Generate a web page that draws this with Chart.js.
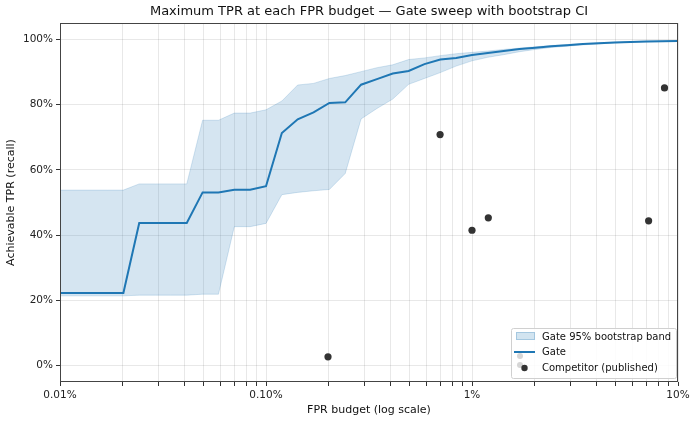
<!DOCTYPE html>
<html>
<head>
<meta charset="utf-8">
<script src="https://cdn.jsdelivr.net/npm/chart.js@4.4.1/dist/chart.umd.min.js"></script>
<style>
  html, body { margin: 0; padding: 0; background: #fff; }
  #wrap { width: 696px; height: 422px; }
</style>
</head>
<body>
<div id="wrap"><canvas id="c" width="696" height="422"></canvas></div>
<script>
// ---- data (FPR in percent, TPR in percent) ----
const fpr = [0.01, 0.011938, 0.014251, 0.017013, 0.02031, 0.024245, 0.028943, 0.034551, 0.041246, 0.049239,
  0.05878, 0.07017, 0.083768, 0.1, 0.11938, 0.14251, 0.17013, 0.2031, 0.24245, 0.28943,
  0.34551, 0.41246, 0.49239, 0.5878, 0.7017, 0.83768, 1.0, 1.1938, 1.4251, 1.7013,
  2.031, 2.4245, 2.8943, 3.4551, 4.1246, 4.9239, 5.878, 7.017, 8.3768, 10];
const gateTpr = [22.3, 22.3, 22.3, 22.3, 22.3, 43.7, 43.7, 43.7, 43.7, 53.1,
  53.1, 53.9, 53.9, 55.0, 71.3, 75.5, 77.6, 80.5, 80.7, 86.1,
  87.8, 89.5, 90.3, 92.4, 93.8, 94.3, 95.2, 95.8, 96.4, 97.0,
  97.4, 97.9, 98.2, 98.6, 98.8, 99.0, 99.2, 99.3, 99.4, 99.5];
const bandUpper = [53.8, 53.8, 53.8, 53.8, 53.8, 55.7, 55.7, 55.7, 55.7, 75.2,
  75.2, 77.4, 77.4, 78.4, 81.1, 86.0, 86.5, 88.0, 88.9, 90.1,
  91.3, 92.2, 93.8, 94.3, 95.0, 95.6, 96.0, 96.4, 96.9, 97.3,
  97.7, 98.1, 98.4, 98.7, 98.9, 99.1, 99.3, 99.4, 99.5, 99.6];
const bandLower = [21.4, 21.4, 21.4, 21.4, 21.4, 21.6, 21.6, 21.6, 21.6, 21.9,
  21.9, 42.6, 42.6, 43.6, 52.4, 53.1, 53.6, 54.0, 58.9, 75.6,
  78.8, 81.7, 86.2, 88.0, 89.8, 91.8, 93.4, 94.5, 95.3, 96.2,
  96.9, 97.5, 97.9, 98.3, 98.6, 98.9, 99.1, 99.2, 99.3, 99.4];
const compFpr = [0.2, 0.7, 1.0, 1.2, 7.2, 8.6];
const compTpr = [2.7, 70.8, 41.5, 45.3, 44.4, 85.1];

const xMajorTicks = [0.01, 0.1, 1, 10];
const xMajorLabels = ['0.01%', '0.10%', '1%', '10%'];
const xMinorTicks = [0.02,0.03,0.04,0.05,0.06,0.07,0.08,0.09,
  0.2,0.3,0.4,0.5,0.6,0.7,0.8,0.9, 2,3,4,5,6,7,8,9];
const yTicks = [0, 20, 40, 60, 80, 100];
const yLabels = ['0%', '20%', '40%', '60%', '80%', '100%'];

const titleText = 'Maximum TPR at each FPR budget — Gate sweep with bootstrap CI';
const legendLabels = ['Gate 95% bootstrap band', 'Gate', 'Competitor (published)'];

const FONT = "'DejaVu Sans', sans-serif";
const pts = (xs, ys) => xs.map((x, i) => ({ x: x, y: ys[i] }));

const framePlugin = {
  id: 'frame',
  afterDraw(chart) {
    const { ctx, chartArea: a } = chart;
    ctx.save();
    // frame
    ctx.strokeStyle = '#444';
    ctx.lineWidth = 1;
    ctx.strokeRect(Math.round(a.left) + 0.5, Math.round(a.top) + 0.5,
      Math.round(a.right - a.left) - 1, Math.round(a.bottom - a.top) - 1);
    // title
    ctx.fillStyle = '#111';
    ctx.font = '13px ' + FONT;
    ctx.textAlign = 'center';
    ctx.textBaseline = 'middle';
    ctx.fillText(titleText, (a.left + a.right) / 2, 12);
    // legend
    const bx = 511, by = 328, bw = 165, bh = 50;
    ctx.fillStyle = 'rgba(255,255,255,0.85)';
    ctx.strokeStyle = '#d0d0d0';
    ctx.lineWidth = 1;
    ctx.beginPath();
    if (ctx.roundRect) ctx.roundRect(bx + 0.5, by + 0.5, bw, bh, 2); else ctx.rect(bx + 0.5, by + 0.5, bw, bh);
    ctx.fill();
    ctx.stroke();
    ctx.fillStyle = 'rgba(31,119,180,0.2)';
    ctx.fillRect(516, 332, 19, 8);
    ctx.strokeStyle = 'rgba(31,119,180,0.25)';
    ctx.strokeRect(516.5, 332.5, 18, 7);
    ctx.strokeStyle = '#1f77b4';
    ctx.lineWidth = 2;
    ctx.beginPath(); ctx.moveTo(514, 352); ctx.lineTo(535, 352); ctx.stroke();
    ctx.fillStyle = '#d6d6d6';
    ctx.beginPath(); ctx.arc(520, 356, 3, 0, Math.PI * 2); ctx.fill();
    ctx.beginPath(); ctx.arc(520, 365, 3, 0, Math.PI * 2); ctx.fill();
    ctx.fillStyle = '#333';
    ctx.beginPath(); ctx.arc(524.5, 368, 3.2, 0, Math.PI * 2); ctx.fill();
    ctx.fillStyle = '#111';
    ctx.font = '10px ' + FONT;
    ctx.textAlign = 'left';
    ctx.fillText(legendLabels[0], 542, 337);
    ctx.fillText(legendLabels[1], 542, 352.5);
    ctx.fillText(legendLabels[2], 542, 368);
    ctx.restore();
  }
};

new Chart(document.getElementById('c'), {
  type: 'line',
  data: {
    datasets: [
      { label: 'upper', data: pts(fpr, bandUpper), borderColor: 'rgba(31,119,180,0.18)', borderWidth: 1,
        backgroundColor: 'rgba(31,119,180,0.19)', fill: '+1', pointRadius: 0, tension: 0, order: 3 },
      { label: 'lower', data: pts(fpr, bandLower), borderColor: 'rgba(31,119,180,0.18)', borderWidth: 1,
        fill: false, pointRadius: 0, tension: 0, order: 3 },
      { label: 'Gate', data: pts(fpr, gateTpr), borderColor: '#1f77b4', borderWidth: 2, fill: false,
        pointRadius: 0, tension: 0, order: 2 },
      { type: 'scatter', label: 'Competitor (published)', data: pts(compFpr, compTpr),
        backgroundColor: '#333333', borderColor: '#333333', borderWidth: 0, pointRadius: 3.6, showLine: false, order: 1 }
    ]
  },
  options: {
    responsive: false, animation: false, devicePixelRatio: 1,
    layout: { padding: { top: 23, right: 18, left: 0, bottom: 0 } },
    plugins: { legend: { display: false }, title: { display: false }, tooltip: { enabled: false } },
    scales: {
      x: {
        type: 'logarithmic', min: 0.01, max: 10,
        afterFit(s) { s.height = 40; },
        afterBuildTicks(s) {
          s.ticks = xMajorTicks.concat(xMinorTicks).sort((a, b) => a - b).map(v => ({ value: v, major: xMajorTicks.includes(v) }));
        },
        ticks: { autoSkip: false, maxRotation: 0, padding: 3, color: '#222', font: { family: FONT, size: 10.5 },
          callback(v) { const i = xMajorTicks.indexOf(v); return i >= 0 ? xMajorLabels[i] : ''; } },
        grid: { color: 'rgba(0,0,0,0.09)', lineWidth: 1, tickLength: 4, tickColor: '#333' },
        border: { display: false },
        title: { display: true, text: 'FPR budget (log scale)', color: '#111', font: { family: FONT, size: 11 }, padding: { top: 6, bottom: 5 } }
      },
      y: {
        type: 'linear', min: -5, max: 105,
        afterFit(s) { s.width = 60; },
        afterBuildTicks(s) { s.ticks = yTicks.map(v => ({ value: v })); },
        ticks: { padding: 3, color: '#222', font: { family: FONT, size: 10.5 },
          callback(v) { const i = yTicks.indexOf(v); return i >= 0 ? yLabels[i] : ''; } },
        grid: { color: 'rgba(0,0,0,0.09)', lineWidth: 1, tickLength: 4, tickColor: '#333' },
        border: { display: false },
        title: { display: true, text: 'Achievable TPR (recall)', color: '#111', font: { family: FONT, size: 11 }, padding: { top: 5, bottom: 5 } }
      }
    }
  },
  plugins: [framePlugin]
});
</script>
</body>
</html>
